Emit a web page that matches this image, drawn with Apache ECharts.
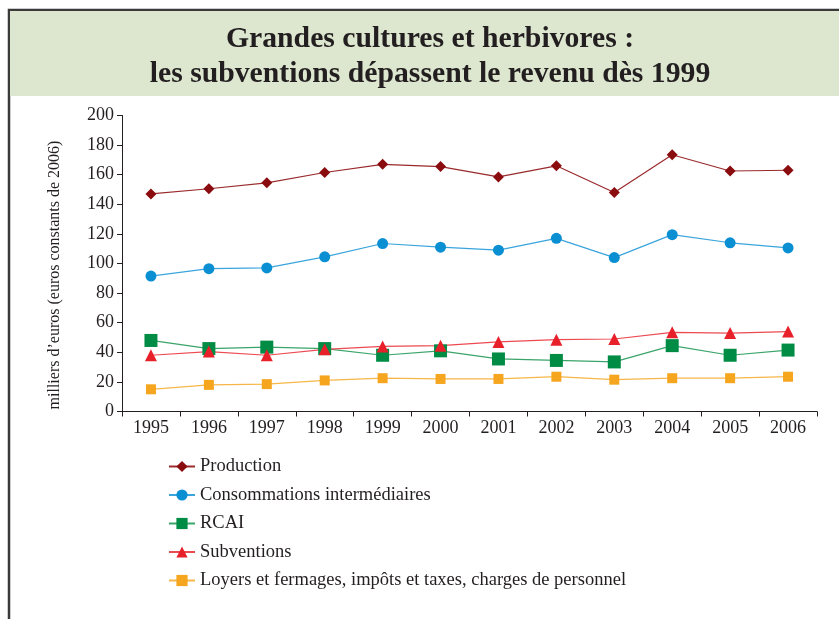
<!DOCTYPE html>
<html>
<head>
<meta charset="utf-8">
<script src="https://cdn.jsdelivr.net/npm/echarts@6/dist/echarts.min.js"></script>
<style>
  html, body { margin: 0; padding: 0; background: #fff; }
  #chart { width: 839px; height: 619px; }
</style>
</head>
<body>
<div id="chart"></div>
<script>
// années
var years = ["1995", "1996", "1997", "1998", "1999", "2000", "2001", "2002", "2003", "2004", "2005", "2006"];

// valeurs (milliers d'euros)
var production = [147, 150.5, 154.5, 161.5, 167, 165.5, 158.5, 166, 148, 173.5, 162.5, 163];
var consommations = [91.5, 96.5, 97, 104.5, 113.5, 111, 109, 117, 104, 119.5, 114, 110.5];
var rcai = [48, 42.5, 43.5, 42.5, 38, 41, 35.5, 34.5, 33.5, 44.5, 38, 41.5];
var subventions = [38, 40.5, 38, 42, 44, 44.5, 47, 48.5, 49, 53.5, 53, 54];
var loyers = [15, 18, 18.5, 21, 22.5, 22, 22, 23.5, 21.5, 22.5, 22.5, 23.5];

var yTicks = [0, 20, 40, 60, 80, 100, 120, 140, 160, 180, 200];

var txt = "#231f20";
var serif = "'Liberation Serif', 'DejaVu Serif', serif";

function serie(name, data, color, lineColor, symbol, size) {
  return {
    name: name,
    type: "line",
    data: data,
    symbol: symbol,
    symbolSize: size,
    showSymbol: true,
    animation: false,
    itemStyle: { color: color },
    lineStyle: { color: lineColor, width: 1.2 }
  };
}

var chart = echarts.init(document.getElementById("chart"));

chart.setOption({
  backgroundColor: "#fff",
  graphic: [
    // cadre + bandeau vert
    { type: "rect", shape: { x: 9, y: 10, width: 900, height: 700 }, style: { fill: "none", stroke: "#3a3a3a", lineWidth: 2.5 }, z: 0 },
    { type: "rect", shape: { x: 10, y: 11, width: 900, height: 85 }, style: { fill: "#dde7cf" }, z: 0 },
    {
      type: "text", x: 430, y: 39, scaleX: 0.99,
      style: { text: "Grandes cultures et herbivores :", font: "bold 30px " + serif, fill: txt, textAlign: "center", textVerticalAlign: "middle" }
    },
    {
      type: "text", x: 430, y: 74, scaleX: 0.99,
      style: { text: "les subventions dépassent le revenu dès 1999", font: "bold 30px " + serif, fill: txt, textAlign: "center", textVerticalAlign: "middle" }
    },
    // titre de l'axe vertical
    {
      type: "text", x: 55, y: 275, rotation: Math.PI / 2,
      style: { text: "milliers d’euros (euros constants de 2006)", font: "16px " + serif, fill: txt, textAlign: "center", textVerticalAlign: "middle" }
    }
  ],
  grid: { left: 122, right: 22, top: 115.5, bottom: 207.5 },
  legend: {
    orient: "vertical",
    left: 163,
    top: 452,
    itemWidth: 26,
    itemHeight: 14,
    itemGap: 9.5,
    textStyle: { fontFamily: serif, fontSize: 18.5, color: txt },
    data: ["Production", "Consommations intermédiaires", "RCAI", "Subventions", "Loyers et fermages, impôts et taxes, charges de personnel"]
  },
  xAxis: {
    type: "category",
    data: years,
    boundaryGap: true,
    axisLine: { lineStyle: { color: txt, width: 1 } },
    axisTick: { show: true, length: 5, inside: false, lineStyle: { color: txt } },
    axisLabel: { fontFamily: serif, fontSize: 18, color: txt, margin: 8 },
    splitLine: { show: false }
  },
  yAxis: {
    type: "value",
    min: yTicks[0],
    max: yTicks[yTicks.length - 1],
    interval: 20,
    axisLine: { show: true, lineStyle: { color: txt, width: 1 } },
    axisTick: { show: true, length: 5, lineStyle: { color: txt } },
    axisLabel: { fontFamily: serif, fontSize: 18, color: txt, margin: 8 },
    splitLine: { show: false }
  },
  series: [
    serie("Production", production, "#8a0c0f", "#9a2a2c", "diamond", 11),
    serie("Consommations intermédiaires", consommations, "#0b8fd3", "#3aa5dc", "circle", 11),
    serie("RCAI", rcai, "#008c45", "#3aa46a", "rect", 13),
    serie("Subventions", subventions, "#e8202a", "#ec4a51", "triangle", 12),
    serie("Loyers et fermages, impôts et taxes, charges de personnel", loyers, "#f6a51f", "#f7b649", "rect", 10)
  ]
});
</script>
</body>
</html>
